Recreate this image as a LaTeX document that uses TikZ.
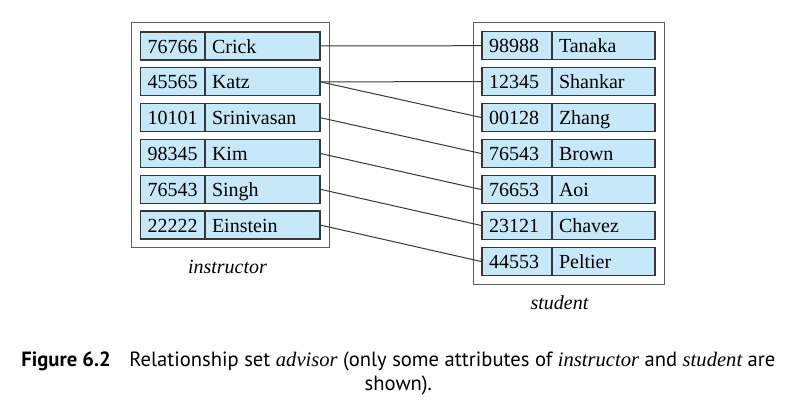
\documentclass[tikz,border=0pt]{standalone}
\usepackage{fontspec}
\setmainfont{Liberation Serif}
\newfontfamily\capfont{PT Sans}
\usetikzlibrary{positioning, fit}
\definecolor{rowblue}{RGB}{198,232,248}
\definecolor{edgegray}{RGB}{55,55,55}
\definecolor{framegray}{RGB}{95,95,95}

\begin{document}
\begin{tikzpicture}[
        x=0.5pt, y=-0.5pt,
        cell/.style={draw=edgegray, fill=rowblue, line width=0.6pt, outer sep=0pt, minimum height=14pt, inner xsep=3.5pt, inner ysep=0pt, text height=9pt, text depth=1.8pt, align=left, font=\rmfamily\fontsize{10}{12}\selectfont},
        iid/.style={cell, text width=25.25pt},
        iname/.style={cell, text width=50.5pt},
        sid/.style={cell, text width=28pt},
        sname/.style={cell, text width=44.5pt},
        frame/.style={draw=framegray, line width=0.5pt, inner sep=4.5pt},
        link/.style={draw=edgegray, line width=0.5pt},
        lbl/.style={font=\rmfamily\fontsize{10}{12}\selectfont\itshape},
        caption/.style={font=\capfont\fontsize{10.3}{12}\selectfont},
    ]
        \useasboundingbox (0,0) rectangle (796,405);

        % instructor rows
        \node[iid, anchor=north west] (i1) at (140.5,32) {76766};
        \node[iname, right=0pt of i1] (n1) {Crick};
        \node[iid, below=3.9pt of i1] (i2) {45565};
        \node[iname, right=0pt of i2] (n2) {Katz};
        \node[iid, below=3.9pt of i2] (i3) {10101};
        \node[iname, right=0pt of i3] (n3) {Srinivasan};
        \node[iid, below=3.9pt of i3] (i4) {98345};
        \node[iname, right=0pt of i4] (n4) {Kim};
        \node[iid, below=3.9pt of i4] (i5) {76543};
        \node[iname, right=0pt of i5] (n5) {Singh};
        \node[iid, below=3.9pt of i5] (i6) {22222};
        \node[iname, right=0pt of i6] (n6) {Einstein};
        \node[frame, fit=(i1)(n6)] (instructor) {};

        % student rows
        \node[sid, anchor=north west] (s1) at (482,31.7) {98988};
        \node[sname, right=0pt of s1] (t1) {Tanaka};
        \node[sid, below=4pt of s1] (s2) {12345};
        \node[sname, right=0pt of s2] (t2) {Shankar};
        \node[sid, below=4pt of s2] (s3) {00128};
        \node[sname, right=0pt of s3] (t3) {Zhang};
        \node[sid, below=4pt of s3] (s4) {76543};
        \node[sname, right=0pt of s4] (t4) {Brown};
        \node[sid, below=4pt of s4] (s5) {76653};
        \node[sname, right=0pt of s5] (t5) {Aoi};
        \node[sid, below=4pt of s5] (s6) {23121};
        \node[sname, right=0pt of s6] (t6) {Chavez};
        \node[sid, below=4pt of s6] (s7) {44553};
        \node[sname, right=0pt of s7] (t7) {Peltier};
        \node[frame, fit=(s1)(t7)] (student) {};

        % labels
        \node[lbl, anchor=base] (instlabel) at (227.5,273) {instructor};
        \node[lbl, anchor=base] (studlabel) at (559.5,309) {student};

        % advisor pairs
        \draw[link] (n1.east) -- (s1.west);
        \draw[link] (n2.east) -- (s2.west);
        \draw[link] (n2.east) -- (s3.west);
        \draw[link] (n3.east) -- (s4.west);
        \draw[link] (n4.east) -- (s5.west);
        \draw[link] (n5.east) -- (s6.west);
        \draw[link] (n6.east) -- (s7.west);

        % caption
        \node[caption, anchor=base] (cap1) at (398.4,366.7) {{\bfseries Figure 6.2}\hspace{0.9em}Relationship set {\rmfamily\itshape advisor} (only some attributes of {\rmfamily\itshape instructor} and {\rmfamily\itshape student} are};
        \node[caption, anchor=base] (cap2) at (398.4,390) {shown).};
    \end{tikzpicture}
\end{document}
